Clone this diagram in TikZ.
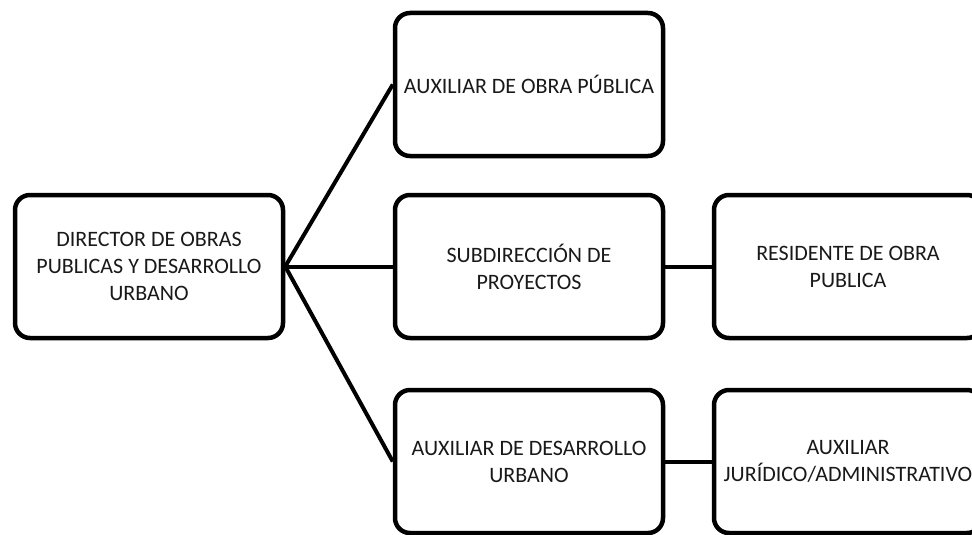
\documentclass[tikz,border=0pt]{standalone}
\usepackage{fontspec}
\setmainfont{Carlito}
\usepackage{tikz}
\tikzset{
	basics/.style={minimum width=268pt, minimum height=143pt, text centered, align=center, draw=black, line width=4.5pt, font=\fontsize{22}{27}\selectfont, text=black!90},
	process/.style={rectangle, rounded corners=15pt, basics, fill=white},
	line/.style={line width=4pt, black},
}

\begin{document}
\begin{tikzpicture}[x=1pt,y=-1pt,node distance=319pt]
\useasboundingbox (0,0) rectangle (972,535);
\clip (0,0) rectangle (972,535);
\node (director) [process] at (149,266.5) {DIRECTOR DE OBRAS\\PUBLICAS Y DESARROLLO\\URBANO};
\node (subdir) [process, right of=director, node distance=380pt] {SUBDIRECCIÓN DE\\PROYECTOS};
\node (auxobra) [process, above of=subdir, node distance=182pt] {AUXILIAR DE OBRA PÚBLICA};
\node (auxdes) [process, below of=subdir, node distance=195pt] {AUXILIAR DE DESARROLLO\\URBANO};
\node (residente) [process, right of=subdir] {RESIDENTE DE OBRA\\PUBLICA};
\node (auxjur) [process, right of=auxdes] {AUXILIAR\\JURÍDICO/ADMINISTRATIVO};
\foreach \i/\j in {director/auxobra,director/subdir,director/auxdes,subdir/residente,auxdes/auxjur}
\draw [line] (\i.east) -- (\j.west);
\end{tikzpicture}
\end{document}
